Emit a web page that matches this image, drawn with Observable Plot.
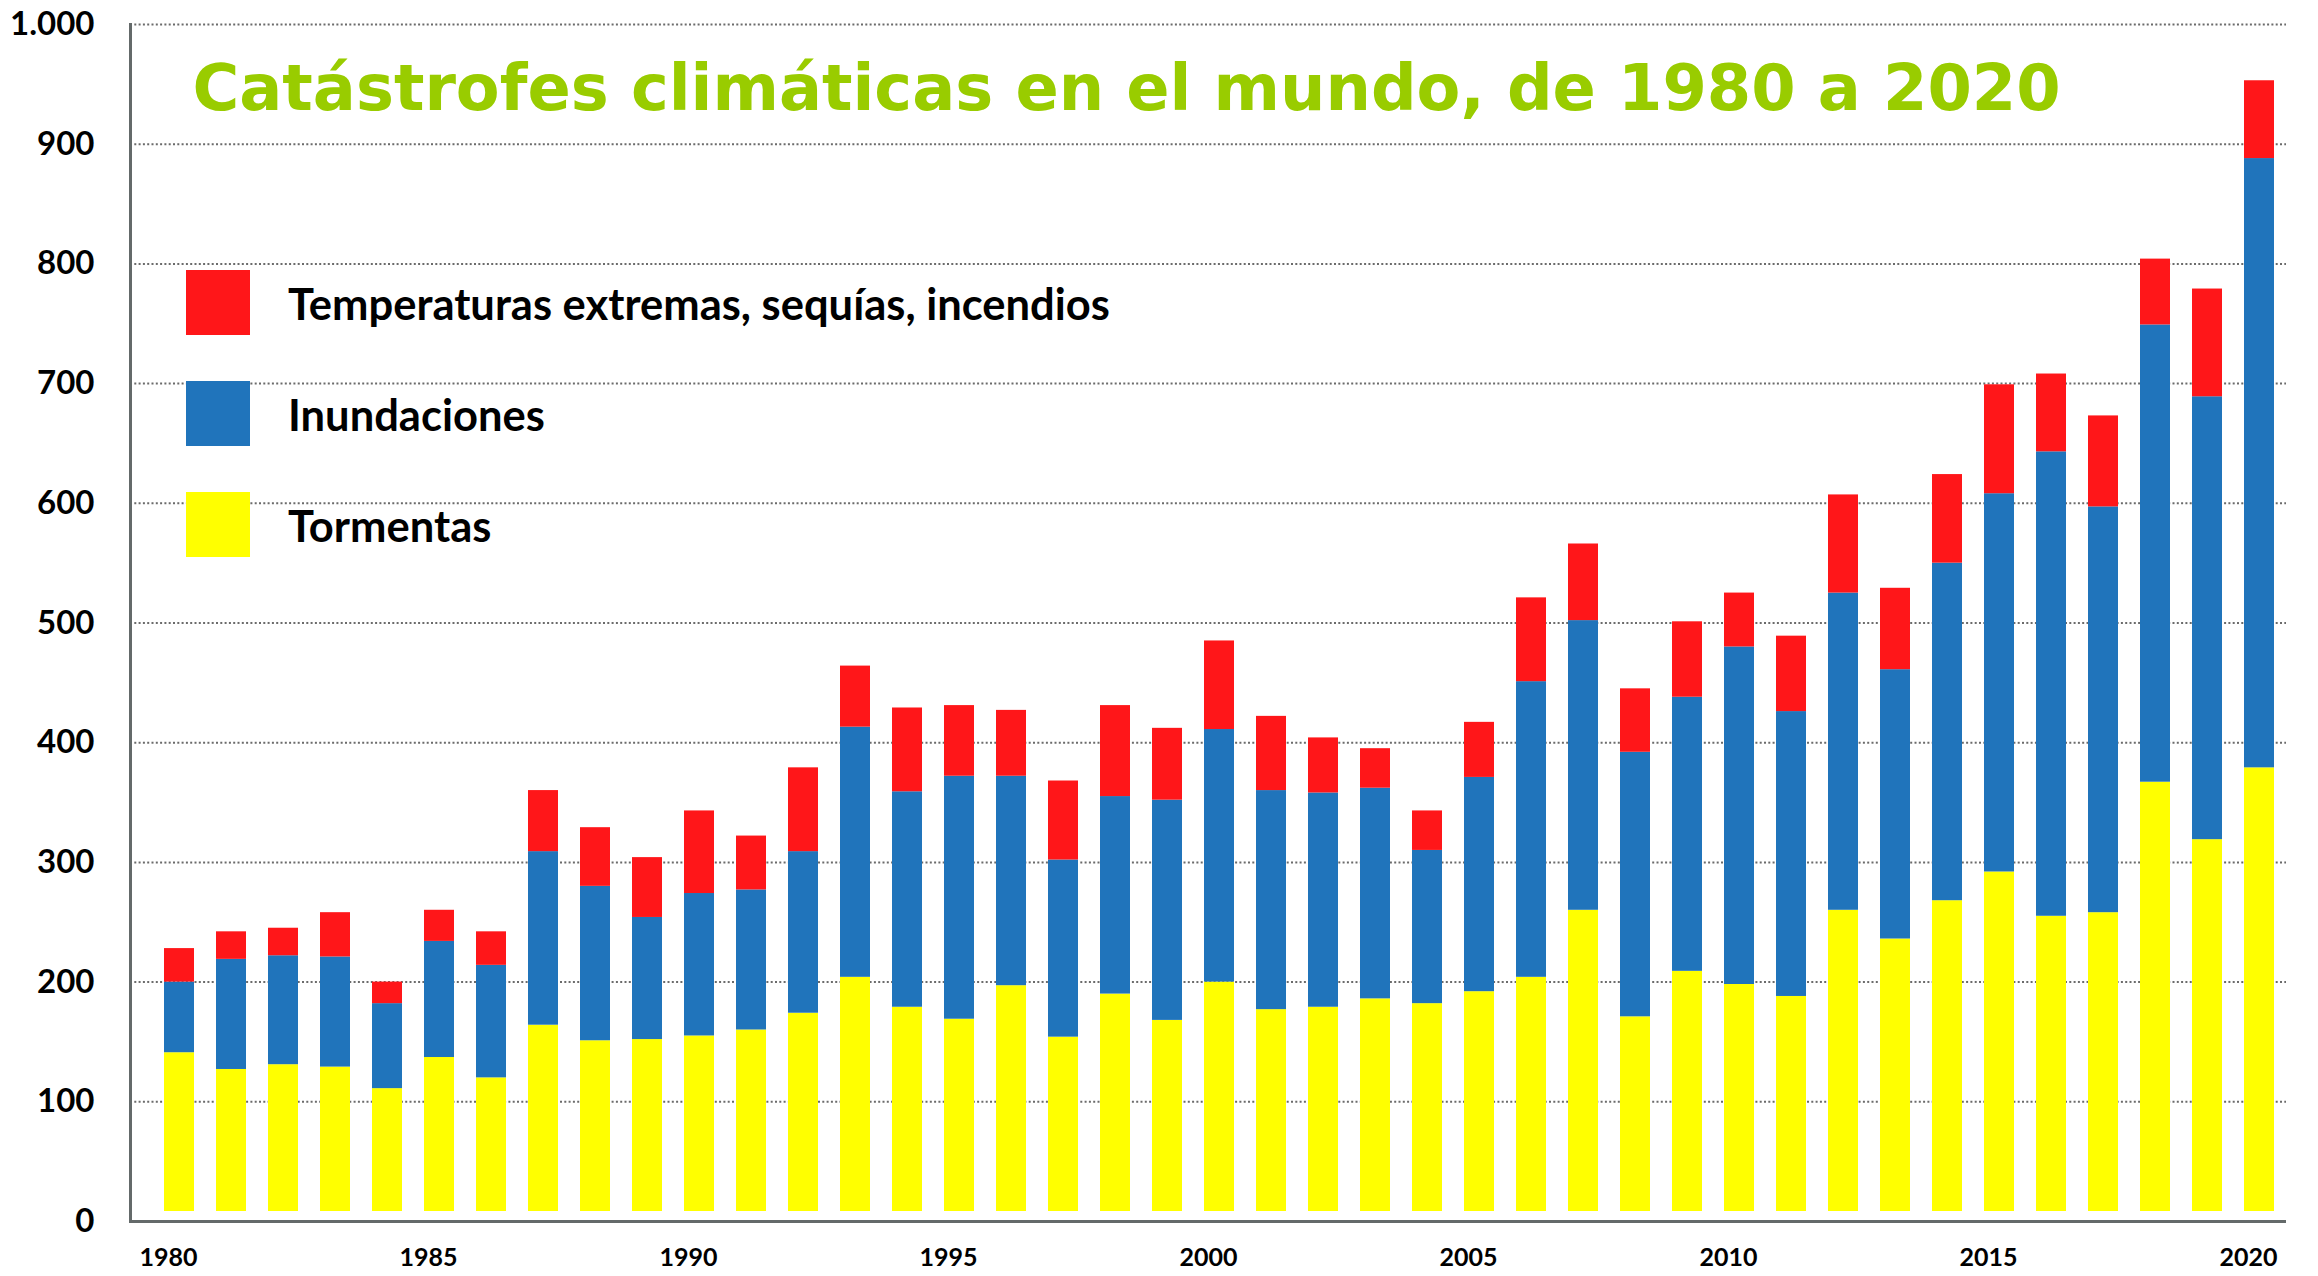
<!DOCTYPE html>
<html><head><meta charset="utf-8">
<script src="https://cdn.jsdelivr.net/npm/d3@7"></script>
<script src="https://cdn.jsdelivr.net/npm/@observablehq/plot@0.6"></script>
<style>
html,body{margin:0;padding:0;background:#fff;}
#wrap{position:relative;width:2318px;height:1276px;overflow:hidden;}
#legend{position:absolute;left:186px;top:270px;font-family:Lato,"Open Sans",sans-serif;font-weight:bold;font-size:43.5px;color:#000;}
#legend .item{position:absolute;left:0;height:65px;display:flex;align-items:center;white-space:nowrap;}
#legend .sw{width:64px;height:65px;margin-right:38px;flex:none;}
</style></head><body><div id="wrap"></div>
<script>
const years = [1980,1981,1982,1983,1984,1985,1986,1987,1988,1989,1990,1991,1992,1993,1994,1995,1996,1997,1998,1999,2000,2001,2002,2003,2004,2005,2006,2007,2008,2009,2010,2011,2012,2013,2014,2015,2016,2017,2018,2019,2020];
const tormentas    = [141,127,131,129,111,137,120,164,151,152,155,160,174,204,179,169,197,154,190,168,200,177,179,186,182,192,204,260,171,209,198,188,260,236,268,292,255,258,367,319,379];
const inundaciones = [59,92,91,92,71,97,94,145,129,102,119,117,135,209,180,203,175,148,165,184,211,183,179,176,128,179,247,242,221,229,282,238,265,225,282,316,388,339,382,370,509];
const temperaturas = [28,23,23,37,18,26,28,51,49,50,69,45,70,51,70,59,55,66,76,60,74,62,46,33,33,46,70,64,53,63,45,63,82,68,74,91,65,76,55,90,65];
const seriesNames  = ["Temperaturas extremas, sequías, incendios","Inundaciones","Tormentas"];
const seriesColors = ["#FF1619","#2074BB","#FFFF00"];
const xTickYears   = [1980,1985,1990,1995,2000,2005,2010,2015,2020];
const yTicks       = [0,100,200,300,400,500,600,700,800,900,1000];
const yTickLabels  = ["0","100","200","300","400","500","600","700","800","900","1.000"];
const title = "Catástrofes climáticas en el mundo, de 1980 a 2020";

const rows = years.map((year, i) => ({
  year,
  s: tormentas[i],
  f: tormentas[i] + inundaciones[i],
  t: tormentas[i] + inundaciones[i] + temperaturas[i]
}));

const axisColor = "#646a6a";
const chart = Plot.plot({
  width: 2318, height: 1276,
  marginLeft: 130, marginRight: 32, marginTop: 24, marginBottom: 55,
  style: {fontFamily: "Lato, 'Open Sans', sans-serif", background: "white", color: "black"},
  x: {type: "band", domain: years, range: [152, 2285.5], paddingInner: 0.43, paddingOuter: 0, axis: null, label: null},
  y: {domain: [0, 1000], axis: null, label: null},
  marks: [
    Plot.ruleY(yTicks.filter(d => d > 0), {stroke: "#6b6b6b", strokeWidth: 2, strokeDasharray: "2,2.3"}),
    Plot.barY(rows, {x: "year", y1: 0, y2: "s", fill: seriesColors[2], insetBottom: 10}),
    Plot.barY(rows, {x: "year", y1: "s", y2: "f", fill: seriesColors[1]}),
    Plot.barY(rows, {x: "year", y1: "f", y2: "t", fill: seriesColors[0]}),
    Plot.ruleY([0], {stroke: axisColor, strokeWidth: 3}),
    Plot.frame({anchor: "left", stroke: axisColor, strokeWidth: 3}),
    Plot.axisY(yTicks, {tickSize: 0, tickPadding: 36, label: null, tickFormat: d => yTickLabels[yTicks.indexOf(d)], fontSize: 33, fontWeight: "bold", fill: "black"}),
    Plot.axisX(xTickYears, {tickSize: 0, tickPadding: 27, label: null, tickFormat: d => String(d), fontSize: 25, fontWeight: "bold", fill: "black", dx: -11}),
    Plot.text([title], {frameAnchor: "top-left", textAnchor: "start", lineAnchor: "top", dx: 62, dy: 40,
      fontFamily: "'DejaVu Sans', Verdana, sans-serif", fontWeight: "bold", fontSize: 63.8, fill: "#99CC00"})
  ]
});

const wrap = document.getElementById("wrap");
wrap.appendChild(chart);

const legend = document.createElement("div");
legend.id = "legend";
const tops = [0, 111, 222];
seriesNames.forEach((name, i) => {
  const item = document.createElement("div");
  item.className = "item";
  item.style.top = tops[i] + "px";
  const sw = document.createElement("div");
  sw.className = "sw";
  sw.style.background = seriesColors[i];
  const lab = document.createElement("span");
  lab.textContent = name;
  item.appendChild(sw);
  item.appendChild(lab);
  legend.appendChild(item);
});
wrap.appendChild(legend);
</script>
</body></html>
